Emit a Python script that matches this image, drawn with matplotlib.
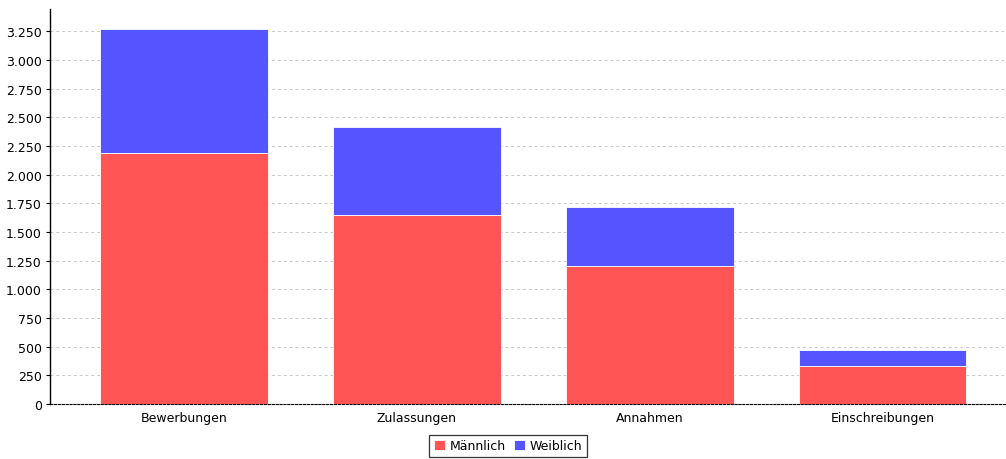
import matplotlib.pyplot as plt
from matplotlib.ticker import FuncFormatter, MultipleLocator

categories = ["Bewerbungen", "Zulassungen", "Annahmen", "Einschreibungen"]
maennlich = [2190, 1650, 1200, 335]
weiblich = [1080, 765, 520, 140]
series_names = ["Männlich", "Weiblich"]

red = "#FF5555"
blue = "#5555FF"

fig = plt.figure(figsize=(10.06, 4.6), dpi=100)
ax = fig.add_axes([0.0497, 0.1196, 0.9503, 0.8587])

x = list(range(len(categories)))
ax.bar(x, maennlich, width=0.72, color=red, edgecolor="white", linewidth=0.6,
       label=series_names[0], zorder=3)
ax.bar(x, weiblich, width=0.72, bottom=maennlich, color=blue, edgecolor="white",
       linewidth=0.6, label=series_names[1], zorder=3)

ax.set_xlim(-0.575, 3.53)
ax.set_ylim(0, 3446)
ax.yaxis.set_major_locator(MultipleLocator(250))
ax.yaxis.set_major_formatter(FuncFormatter(lambda v, p: f"{int(v):,}".replace(",", ".")))
ax.set_xticks(x)
ax.set_xticklabels(categories)

ax.grid(axis="y", linestyle=(0, (3, 3)), color="#c8c8c8", linewidth=0.7, zorder=0)
for s in ["top", "right"]:
    ax.spines[s].set_visible(False)
ax.spines["left"].set_linewidth(1.0)
ax.spines["bottom"].set_linestyle((0, (2, 1.5)))
ax.spines["bottom"].set_linewidth(0.8)
ax.tick_params(axis="x", length=0, labelsize=9, pad=5)
ax.tick_params(axis="y", length=3, labelsize=9, pad=3)

leg = fig.legend(loc="upper center", bbox_to_anchor=(0.505, 0.052), ncol=2,
                 frameon=True, fancybox=False, edgecolor="black", fontsize=9,
                 handlelength=0.9, handleheight=0.9, handletextpad=0.4,
                 columnspacing=0.6, borderpad=0.35, borderaxespad=0)
leg.get_frame().set_linewidth(0.9)

plt.savefig("out.png", dpi=100)
